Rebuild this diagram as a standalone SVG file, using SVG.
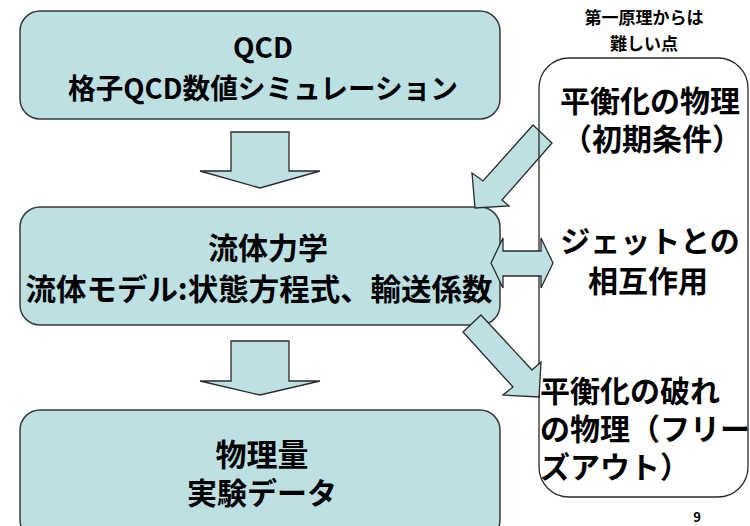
<svg xmlns="http://www.w3.org/2000/svg" width="750" height="526" viewBox="0 0 750 526">
<style>
.box{fill:#bde0e3;stroke:#3a3a3a;stroke-width:1.5}
.arr{fill:#bde0e3;stroke:#2a2a2a;stroke-width:1.3;stroke-linejoin:miter}
.side{fill:none;stroke:#2a2a2a;stroke-width:1.3}
text{font-family:"Noto Sans CJK JP","Noto Sans",sans-serif;fill:#000;font-weight:bold}
.t{font-size:28px;text-anchor:middle}
.r{font-size:30px}
.h{font-size:17px;text-anchor:middle}
</style>
<rect width="750" height="526" fill="#fff"/>
<g id="qcd">
<rect class="box" x="20" y="11" width="480" height="108" rx="20"/>
<text class="t" x="263" y="58" font-weight="normal">QCD</text>
<text class="t" x="263" y="99" textLength="390" lengthAdjust="spacingAndGlyphs">格子QCD数値シミュレーション</text>
</g>
<g id="hydro">
<rect class="box" x="20" y="207" width="480" height="118" rx="20"/>
<text class="t" x="268" y="259" style="font-size:30px">流体力学</text>
<text class="t" x="259" y="300" style="font-size:30px" textLength="467" lengthAdjust="spacingAndGlyphs">流体モデル:状態方程式、輸送係数</text>
</g>
<g id="data">
<rect class="box" x="20" y="410" width="480" height="130" rx="20"/>
<text class="t" x="262" y="466" style="font-size:31px">物理量</text>
<text class="t" x="262" y="504" style="font-size:30px">実験データ</text>
</g>
<g id="connectors">
<polygon class="arr" points="231,132 289,132 289,171 320,171 260,188 200,171 231,171"/>
<polygon class="arr" points="231,341 289,341 289,381 320,381 260,395 200,381 231,381"/>
<polygon class="arr" points="533,125 552,143 502,200 509,206 475,208 472,173 483,181"/>
</g>
<g id="difficult">
<text class="h" x="644" y="24">第一原理からは</text>
<text class="h" x="644" y="50">難しい点</text>
<rect class="side" x="539" y="58" width="209" height="439" rx="30"/>
<text class="r" x="650" y="112" text-anchor="middle">平衡化の物理</text>
<text class="r" x="652" y="150" text-anchor="middle">（初期条件）</text>
<text class="r" x="650" y="252" text-anchor="middle">ジェットとの</text>
<text class="r" x="648" y="292" text-anchor="middle">相互作用</text>
<text class="r" x="540" y="402">平衡化の破れ</text>
<text class="r" x="540" y="440">の物理（フリー</text>
<text class="r" x="540" y="478">ズアウト）</text>
</g>
<g id="connectors2">
<polygon class="arr" points="491,263 503,238 503,251 541,251 541,238 553,263 541,288 541,276 503,276 503,288"/>
<polygon class="arr" points="481,315 532,370 541,362 539,397 503,395 513,387 463,332"/>
</g>
<text x="697" y="522" style="font-size:13px" text-anchor="middle">9</text>
</svg>
